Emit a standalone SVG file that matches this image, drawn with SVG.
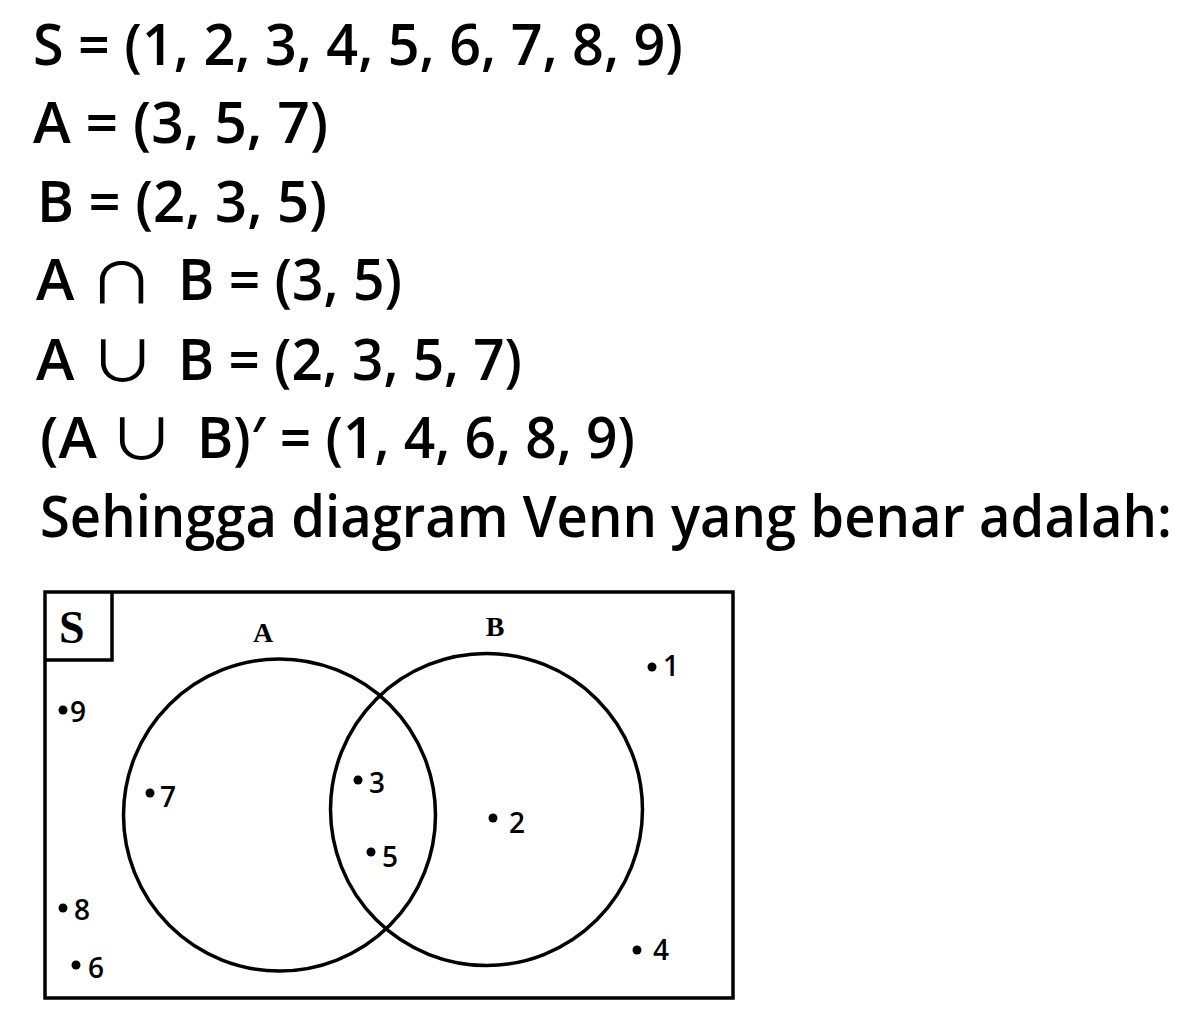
<svg xmlns="http://www.w3.org/2000/svg" width="1183" height="1029" viewBox="0 0 1183 1029">
<style>
.t{font-family:"Open Sans","Noto Sans","DejaVu Sans",sans-serif;font-size:58px;font-weight:600;fill:#000}
.op{font-family:"Noto Sans CJK SC",sans-serif;font-size:56px;fill:#000;text-anchor:middle}
.num{font-family:"Open Sans","Noto Sans",sans-serif;font-size:28px;font-weight:600;fill:#000}
.lbl{font-family:"Liberation Serif",serif;font-size:28px;font-weight:bold;fill:#000}
.ln{fill:none;stroke:#000;stroke-width:3.5}
.dot{fill:#000}
</style>
<rect width="1183" height="1029" fill="#fff"/>
<g id="equations">
<text class="t" x="33" y="65" textLength="650" lengthAdjust="spacingAndGlyphs">S = (1, 2, 3, 4, 5, 6, 7, 8, 9)</text>
<text class="t" x="33" y="143" textLength="295" lengthAdjust="spacingAndGlyphs">A = (3, 5, 7)</text>
<text class="t" x="37" y="222" textLength="290" lengthAdjust="spacingAndGlyphs">B = (2, 3, 5)</text>
<text class="t" x="36" y="300">A</text>
<text class="op" transform="translate(121.5 303) scale(1.2 1)">∩</text>
<text class="t" x="178" y="300" textLength="224" lengthAdjust="spacingAndGlyphs">B = (3, 5)</text>
<text class="t" x="36" y="380">A</text>
<text class="op" transform="translate(122.5 381) scale(1.2 1)">∪</text>
<text class="t" x="178" y="380" textLength="344" lengthAdjust="spacingAndGlyphs">B = (2, 3, 5, 7)</text>
<text class="t" x="40" y="458">(A</text>
<text class="op" transform="translate(141.5 459) scale(1.2 1)">∪</text>
<text class="t" x="197" y="458" textLength="438" lengthAdjust="spacingAndGlyphs">B)′ = (1, 4, 6, 8, 9)</text>
<text class="t" x="40" y="537" textLength="1132" lengthAdjust="spacingAndGlyphs">Sehingga diagram Venn yang benar adalah:</text>
</g>
<g id="universe">
<rect class="ln" x="45" y="592" width="688" height="406" stroke-width="4"/>
<path class="ln" d="M45 660 H112 V592" stroke-width="3"/>
<text x="59" y="643" font-family="Liberation Serif,serif" font-size="46" font-weight="bold">S</text>
</g>
<g id="setA">
<circle class="ln" cx="279.5" cy="815" r="156"/>
<text class="lbl" x="263" y="642" text-anchor="middle">A</text>
</g>
<g id="setB">
<circle class="ln" cx="486.5" cy="809.5" r="156"/>
<text class="lbl" x="495" y="636" text-anchor="middle">B</text>
</g>
<g id="elements">
<circle class="dot" cx="63" cy="710" r="4.5"/><text class="num" x="70" y="722">9</text>
<circle class="dot" cx="150" cy="793" r="4.5"/><text class="num" x="160" y="807">7</text>
<circle class="dot" cx="358" cy="780" r="4.5"/><text class="num" x="369" y="793">3</text>
<circle class="dot" cx="371" cy="852" r="4.5"/><text class="num" x="382" y="867">5</text>
<circle class="dot" cx="63" cy="908" r="4.5"/><text class="num" x="74" y="920">8</text>
<circle class="dot" cx="76" cy="965" r="4.5"/><text class="num" x="88" y="978">6</text>
<circle class="dot" cx="652" cy="667" r="4.5"/><text class="num" x="663" y="676">1</text>
<circle class="dot" cx="493" cy="818" r="4.5"/><text class="num" x="509" y="833">2</text>
<circle class="dot" cx="637" cy="950" r="4.5"/><text class="num" x="653" y="960">4</text>
</g>
<g id="connectors"></g>
</svg>
